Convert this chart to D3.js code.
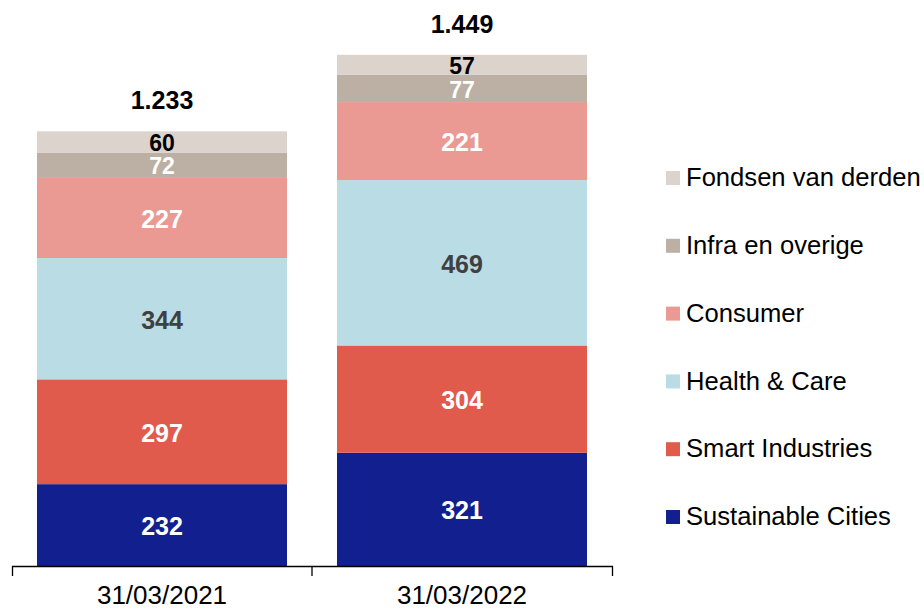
<!DOCTYPE html>
<html>
<head>
<meta charset="utf-8">
<script src="https://cdn.jsdelivr.net/npm/d3@7"></script>
<style>
  body { margin: 0; background: #fff; }
  svg { font-family: "Liberation Sans", Arial, sans-serif; }
</style>
</head>
<body>
<svg id="chart" width="924" height="610"></svg>
<script>
// data
const dates = ['31/03/2021', '31/03/2022'];
const series = ['Sustainable Cities', 'Smart Industries', 'Health & Care', 'Consumer', 'Infra en overige', 'Fondsen van derden'];
const sustainableCities = [232, 321];
const smartIndustries = [297, 304];
const healthCare = [344, 469];
const consumer = [227, 221];
const infraOverige = [72, 77];
const fondsenDerden = [60, 57];
const totals = [1233, 1449];

const colors = ['#121f8f', '#e05b4c', '#b9dce5', '#ea9a92', '#bcafa3', '#dbd3cc'];
const labelColors = ['#fff', '#fff', '#404040', '#fff', '#fff', '#000'];

const rows = dates.map((d, i) => ({
  date: d,
  'Sustainable Cities': sustainableCities[i],
  'Smart Industries': smartIndustries[i],
  'Health & Care': healthCare[i],
  'Consumer': consumer[i],
  'Infra en overige': infraOverige[i],
  'Fondsen van derden': fondsenDerden[i],
  total: totals[i]
}));

const nl = d3.formatLocale({decimal: ',', thousands: '.', grouping: [3], currency: ['€', '']});
const fmt = nl.format(',d');

const svg = d3.select('#chart');
const baseY = 566;

const x = d3.scaleBand().domain(dates).range([12, 612]).padding(0);
const y = d3.scaleLinear().domain([0, 1600]).range([baseY, baseY - 1600 * 0.3528]);
const barW = x.bandwidth() * 5 / 6;

const stacked = d3.stack().keys(series)(rows);

const layers = svg.append('g').selectAll('g')
  .data(stacked)
  .join('g')
    .attr('fill', (d, i) => colors[i]);

layers.selectAll('rect')
  .data(d => d)
  .join('rect')
    .attr('x', d => x(d.data.date) + (x.bandwidth() - barW) / 2)
    .attr('width', barW)
    .attr('y', d => y(d[1]))
    .attr('height', d => y(d[0]) - y(d[1]));

// segment labels (small top segments: slightly smaller text so they don't collide)
stacked.forEach((layer, li) => {
  svg.append('g').selectAll('text')
    .data(layer)
    .join('text')
      .attr('x', d => x(d.data.date) + x.bandwidth() / 2)
      .attr('y', d => (y(d[0]) + y(d[1])) / 2 + 1)
      .attr('dy', '0.36em')
      .attr('text-anchor', 'middle')
      .attr('font-size', li >= 4 ? 23 : 25)
      .attr('font-weight', 'bold')
      .attr('fill', labelColors[li])
      .text(d => fmt(d.data[layer.key]));
});

// totals
svg.append('g').selectAll('text')
  .data(rows)
  .join('text')
    .attr('x', d => x(d.date) + x.bandwidth() / 2)
    .attr('y', d => y(d.total) - 31)
    .attr('dy', '0.36em')
    .attr('text-anchor', 'middle')
    .attr('font-size', 25)
    .attr('font-weight', 'bold')
    .attr('fill', '#000')
    .text(d => fmt(d.total));

// x axis
const axis = svg.append('g')
  .attr('transform', `translate(0,${baseY})`)
  .call(d3.axisBottom(x).tickSize(0).tickSizeOuter(10).tickPadding(20));
axis.select('.domain').attr('stroke', '#000').attr('stroke-width', 1.3);
axis.selectAll('text').attr('font-size', 26).attr('fill', '#000')
  .attr('font-family', '"Liberation Sans", Arial, sans-serif');
axis.append('line')
  .attr('x1', x(dates[1])).attr('x2', x(dates[1]))
  .attr('y1', 0).attr('y2', 10)
  .attr('stroke', '#000').attr('stroke-width', 1.3);

// legend
const legend = svg.append('g').selectAll('g')
  .data(series.slice().reverse())
  .join('g')
    .attr('transform', (d, i) => `translate(666,${177 + i * 67.8})`);
legend.append('rect')
  .attr('x', 0).attr('y', -6).attr('width', 14).attr('height', 14)
  .attr('fill', d => colors[series.indexOf(d)]);
legend.append('text')
  .attr('x', 20).attr('dy', '0.36em')
  .attr('font-size', 25.6).attr('fill', '#000')
  .text(d => d);
</script>
</body>
</html>
